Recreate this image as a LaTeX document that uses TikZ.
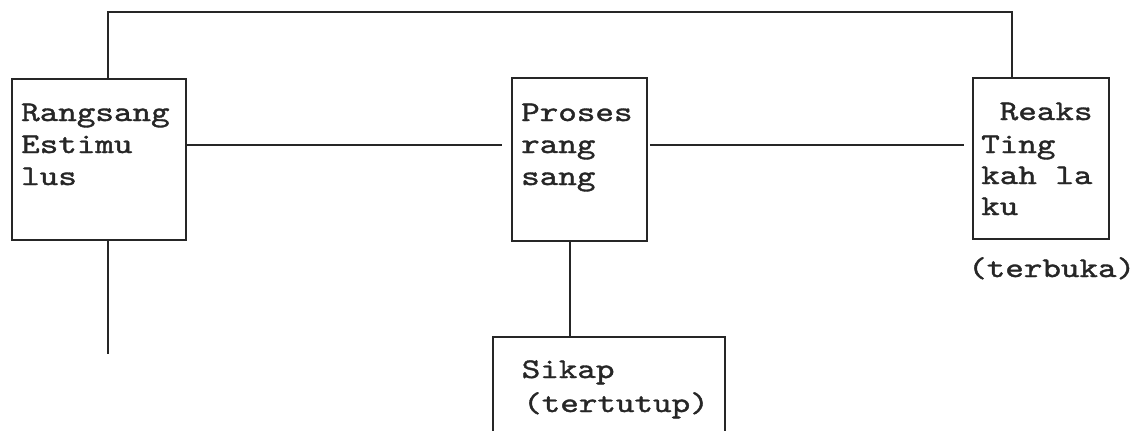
\documentclass[tikz,border=0pt]{standalone}
\usepackage{graphicx}
\usepackage{fontspec}
\setmonofont[FakeBold=1.2]{lmmono10-regular.otf}
\newcommand{\typed}[1]{\scalebox{1.24}[1]{#1}}
\begin{document}
\begin{tikzpicture}[x=1pt,y=-1pt,
  ink/.style={draw=black!85, line width=1.8pt},
  box/.style={ink, rectangle, inner sep=0pt},
  txt/.style={anchor=base west, inner sep=0pt, text=black!85,
    font=\ttfamily\fontsize{28.5}{33}\selectfont}]
\useasboundingbox (0,0) rectangle (1136,431);
\clip (0,0) rectangle (1136,431);

% boxes
\node[box, minimum width=174pt, minimum height=161pt] (b1) at (99,159.5) {};
\node[box, minimum width=135pt, minimum height=163pt] (b2) at (579.5,159.5) {};
\node[box, minimum width=136pt, minimum height=161pt] (b3) at (1041,158.5) {};
\node[box, minimum width=232pt, minimum height=123pt] (b4) at (609,398.5) {};

% box texts
\node[txt] (r1) at (21,121) {\typed{Rangsang}};
\node[txt] (r2) at (21,153) {\typed{Estimu}};
\node[txt] (r3) at (21,185) {\typed{lus}};
\node[txt] (p1) at (521,121) {\typed{Proses}};
\node[txt] (p2) at (521,153) {\typed{rang}};
\node[txt] (p3) at (521,185) {\typed{sang}};
\node[txt] (k1) at (981,120) {\typed{~Reaks}};
\node[txt] (k2) at (981,153) {\typed{Ting}};
\node[txt] (k3) at (981,184) {\typed{kah la}};
\node[txt] (k4) at (981,215) {\typed{ku}};
\node[txt] (tb) at (968,277) {\typed{(terbuka)}};
\node[txt] (s1) at (503,378) {\typed{~Sikap}};
\node[txt] (s2) at (523,412) {\typed{(tertutup)}};

% guide coordinates
\coordinate (hy) at (0,145);
\coordinate (top1) at (108,12);
\coordinate (top3) at (1012,12);
\coordinate (v2) at (570,0);
\coordinate (e1) at (108,354);

% connectors
\draw[ink] (b1.north -| top1) -- (top1) -- (top3) -- (b3.north -| top3);
\draw[ink] (b1.east |- hy) -- ([xshift=-9pt]b2.west |- hy);
\draw[ink] ([xshift=2pt]b2.east |- hy) -- ([xshift=-8pt]b3.west |- hy);
\draw[ink] (b1.south -| top1) -- (e1);
\draw[ink] (b2.south -| v2) -- (b4.north -| v2);
\end{tikzpicture}
\end{document}
